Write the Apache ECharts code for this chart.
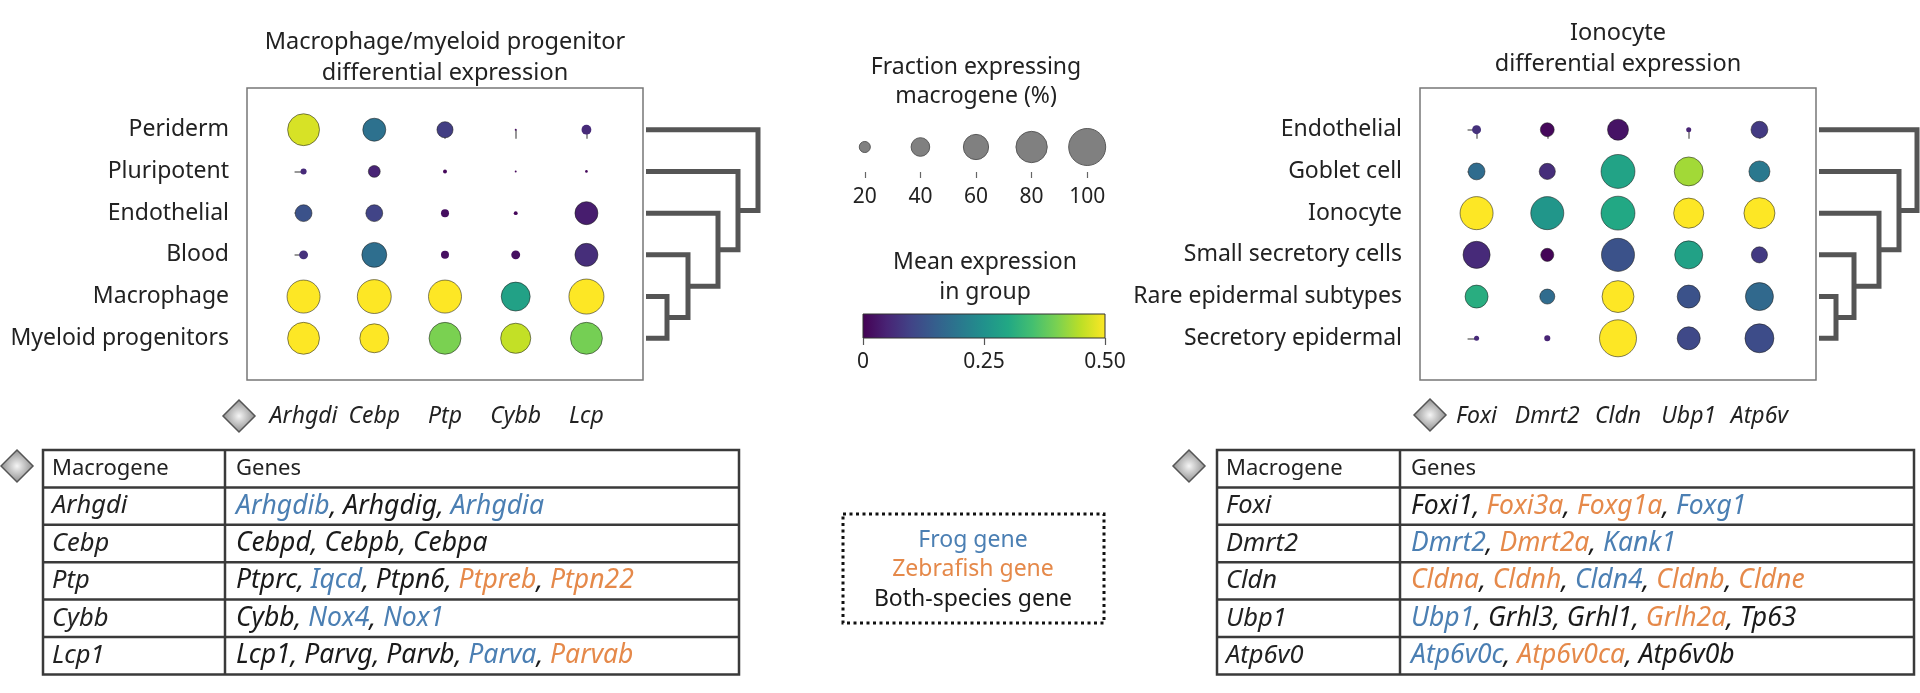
<!DOCTYPE html>
<html><head><meta charset="utf-8">
<script src="https://cdn.jsdelivr.net/npm/echarts@6/dist/echarts.min.js"></script>
<style>html,body{margin:0;padding:0;background:#fff}#c{width:1920px;height:693px}</style>
</head><body><div id="c"></div>
<script>
// ---------------- data ----------------
const leftTitle = 'Macrophage/myeloid progenitor\ndifferential expression';
const rightTitle = 'Ionocyte\ndifferential expression';
const leftRows = ['Periderm','Pluripotent','Endothelial','Blood','Macrophage','Myeloid progenitors'];
const leftCols = ['Arhgdi','Cebp','Ptp','Cybb','Lcp'];
// fraction of cells expressing (%)
const leftFraction = [
  [82, 53, 33, 2, 17],
  [9, 22, 5, 2, 3],
  [35, 35, 13, 5, 53],
  [15, 59, 13, 15, 53],
  [86, 89, 86, 72, 93],
  [82, 72, 82, 76, 82]
];
// mean expression in group
const leftMean = [
  [0.47, 0.185, 0.09, 0.02, 0.06],
  [0.06, 0.05, 0.01, 0.01, 0.01],
  [0.125, 0.10, 0.02, 0.01, 0.04],
  [0.07, 0.18, 0.02, 0.02, 0.065],
  [0.5, 0.5, 0.5, 0.285, 0.5],
  [0.5, 0.5, 0.4, 0.455, 0.395]
];
const rightRows = ['Endothelial','Goblet cell','Ionocyte','Small secretory cells','Rare epidermal subtypes','Secretory epidermal'];
const rightCols = ['Foxi','Dmrt2','Cldn','Ubp1','Atp6v'];
const rightFraction = [
  [15, 27, 47, 7, 35],
  [35, 33, 89, 72, 47],
  [86, 86, 89, 76, 79],
  [66, 25, 86, 69, 33],
  [53, 30, 82, 53, 69],
  [7, 9, 100, 53, 72]
];
const rightMean = [
  [0.07, 0.01, 0.025, 0.05, 0.085],
  [0.175, 0.065, 0.29, 0.43, 0.2],
  [0.5, 0.26, 0.3, 0.5, 0.5],
  [0.06, 0.005, 0.125, 0.285, 0.085],
  [0.31, 0.175, 0.5, 0.125, 0.17],
  [0.06, 0.05, 0.5, 0.11, 0.115]
];
// dendrogram merges: [childA, childB, height]; leaves 0..5, merges 6..
const leftLinkage = [[4,5,24],[3,6,45],[2,7,75],[1,8,95],[0,9,115]];
const rightLinkage = [[4,5,20],[3,6,38],[2,7,63],[1,8,83],[0,9,101]];
const sizeLegendValues = [20, 40, 60, 80, 100];
const colorTicks = [0, 0.25, 0.5];
const colorTickLabels = ['0', '0.25', '0.50'];
const sizeTitle = 'Fraction expressing\nmacrogene (%)';
const colorTitle = 'Mean expression\nin group';
const tableHeader = ['Macrogene', 'Genes'];
const leftTableMacro = ['Arhgdi','Cebp','Ptp','Cybb','Lcp1'];
const leftTableGenes = [
  [['Arhgdib','F'],['Arhgdig','B'],['Arhgdia','F']],
  [['Cebpd','B'],['Cebpb','B'],['Cebpa','B']],
  [['Ptprc','B'],['Iqcd','F'],['Ptpn6','B'],['Ptpreb','Z'],['Ptpn22','Z']],
  [['Cybb','B'],['Nox4','F'],['Nox1','F']],
  [['Lcp1','B'],['Parvg','B'],['Parvb','B'],['Parva','F'],['Parvab','Z']]
];
const rightTableMacro = ['Foxi','Dmrt2','Cldn','Ubp1','Atp6v0'];
const rightTableGenes = [
  [['Foxi1','B'],['Foxi3a','Z'],['Foxg1a','Z'],['Foxg1','F']],
  [['Dmrt2','F'],['Dmrt2a','Z'],['Kank1','F']],
  [['Cldna','Z'],['Cldnh','Z'],['Cldn4','F'],['Cldnb','Z'],['Cldne','Z']],
  [['Ubp1','F'],['Grhl3','B'],['Grhl1','B'],['Grlh2a','Z'],['Tp63','B']],
  [['Atp6v0c','F'],['Atp6v0ca','Z'],['Atp6v0b','B']]
];
const speciesLegend = [['Frog gene','F'],['Zebrafish gene','Z'],['Both-species gene','B']];

// ---------------- styles ----------------
const FONT = '"Noto Sans", "DejaVu Sans", sans-serif';
const FS = 23;
const TFS_HEAD = 22;
const TFS_MACRO = 25.5;
const TFS_GENE = 26.5;
const TXT = '#222';
const speciesColor = {F:'#4b7fb3', Z:'#e5894a', B:'#1a1a1a'};
const viridis = ['#440154','#482475','#414487','#355f8d','#2a788e','#21918c','#22a884','#44bf70','#7ad151','#bddf26','#fde725'];
const MAXD = 37;
const dotSize = f => MAXD * Math.pow(f / 100, 0.75);

function dotData(frac, mean) {
  const out = [];
  frac.forEach((row, r) => row.forEach((f, c) => out.push([c, r, f, mean[r][c]])));
  return out;
}
function renderDot(params, api) {
  const p = api.coord([api.value(0), api.value(1)]);
  const r = dotSize(api.value(2)) / 2;
  return {type: 'circle', shape: {cx: p[0], cy: p[1], r: r},
    style: {fill: api.visual('color'), stroke: r > 5 ? 'rgba(30,30,30,0.55)' : null, lineWidth: 1}};
}
function renderLegendDot(params, api) {
  const p = api.coord([api.value(0), api.value(1)]);
  const r = dotSize(api.value(2)) / 2;
  return {type: 'circle', shape: {cx: p[0], cy: p[1], r: r}, style: {fill: '#808080', stroke: '#5a5a5a', lineWidth: 1}};
}
function dendroLines(linkage, leafStart) {
  const pos = {};
  for (let i = 0; i < 6; i++) pos[i] = [leafStart, i];
  const lines = [];
  linkage.forEach((m, k) => {
    const a = pos[m[0]], b = pos[m[1]], h = m[2];
    lines.push({coords: [[a[0], a[1]], [h, a[1]], [h, b[1]], [b[0], b[1]]]});
    pos[6 + k] = [h, (a[1] + b[1]) / 2];
  });
  return lines;
}

const gridL = {left: 247, top: 88, width: 396, height: 292};
const gridR = {left: 1420, top: 88, width: 396, height: 292};

function dotXAxis(gi, cols) {
  return {gridIndex: gi, type: 'value', min: -0.8, max: 4.8, position: 'bottom',
    axisLine: {show: false}, splitLine: {show: false},
    axisTick: {show: true, customValues: [0,1,2,3,4], length: 9, lineStyle: {color: '#777', width: 1.5}},
    axisLabel: {customValues: [0,1,2,3,4], formatter: v => cols[Math.round(v)], fontSize: FS, fontStyle: 'italic', fontFamily: FONT, color: TXT, margin: 25}};
}
function dotYAxis(gi, rows) {
  return {gridIndex: gi, type: 'value', min: -1, max: 6, inverse: true,
    axisLine: {show: false}, splitLine: {show: false},
    axisTick: {show: true, customValues: [0,1,2,3,4,5], length: 9, lineStyle: {color: '#777', width: 1.5}},
    axisLabel: {customValues: [0,1,2,3,4,5], formatter: v => rows[Math.round(v)], fontSize: FS, fontFamily: FONT, color: TXT, margin: 18}};
}

function tableGraphics(x0, y0, w, divX, rowH, macros, genes) {
  const els = [];
  const n = macros.length + 1;
  const h = rowH * n;
  const stroke = {stroke: '#3a3a3a', lineWidth: 2.5};
  els.push({type: 'rect', shape: {x: x0, y: y0, width: w, height: h}, style: Object.assign({fill: null}, stroke)});
  for (let i = 1; i < n; i++) {
    els.push({type: 'line', shape: {x1: x0, y1: y0 + rowH * i, x2: x0 + w, y2: y0 + rowH * i}, style: stroke});
  }
  els.push({type: 'line', shape: {x1: divX, y1: y0, x2: divX, y2: y0 + h}, style: stroke});
  const rowsTxt = [[tableHeader[0], null]].concat(macros.map((m, i) => [m, genes[i]]));
  rowsTxt.forEach((rt, i) => {
    const cy = y0 + rowH * (i + 0.5);
    const header = i === 0;
    els.push({type: 'text', x: x0 + 9, y: cy, style: {text: rt[0], fill: TXT,
      font: header ? (TFS_HEAD + 'px ' + FONT) : ('italic ' + TFS_MACRO + 'px ' + FONT), verticalAlign: 'middle'}});
    if (header) {
      els.push({type: 'text', x: divX + 11, y: cy, style: {text: tableHeader[1], fill: TXT, font: TFS_HEAD + 'px ' + FONT, verticalAlign: 'middle'}});
    } else {
      const txt = rt[1].map(g => '{' + g[1] + '|' + g[0] + '}').join('{B|, }');
      const rich = {};
      ['F','Z','B'].forEach(k => rich[k] = {fill: speciesColor[k], fontSize: TFS_GENE, fontStyle: 'italic', fontFamily: FONT});
      els.push({type: 'text', x: divX + 11, y: cy, style: {text: txt, rich: rich, fontSize: TFS_GENE, fontStyle: 'italic', fontFamily: FONT, verticalAlign: 'middle'}});
    }
  });
  return els;
}
function diamond(cx, cy) {
  return {type: 'polygon', x: cx, y: cy, shape: {points: [[0,-16],[16,0],[0,16],[-16,0]]},
    style: {fill: new echarts.graphic.RadialGradient(0.5, 0.5, 0.6, [{offset: 0, color: '#f5f5f5'}, {offset: 1, color: '#777'}]), stroke: '#555', lineWidth: 1.5}};
}

const chart = echarts.init(document.getElementById('c'), null, {renderer: 'canvas'});
const colorbarFill = new echarts.graphic.LinearGradient(0, 0, 1, 0, viridis.map((c, i) => ({offset: i / (viridis.length - 1), color: c})));

const graphics = [
  {type: 'text', x: 445, y: 58, style: {text: leftTitle, align: 'center', verticalAlign: 'middle', font: '23.5px ' + FONT, fill: TXT, lineHeight: 31}},
  {type: 'text', x: 1618, y: 49, style: {text: rightTitle, align: 'center', verticalAlign: 'middle', font: '23.5px ' + FONT, fill: TXT, lineHeight: 31}},
  {type: 'text', x: 976, y: 82, style: {text: sizeTitle, align: 'center', verticalAlign: 'middle', font: FS + 'px ' + FONT, fill: TXT, lineHeight: 29}},
  {type: 'text', x: 985, y: 277, style: {text: colorTitle, align: 'center', verticalAlign: 'middle', font: FS + 'px ' + FONT, fill: TXT, lineHeight: 30}},
  diamond(239, 416), diamond(1430, 415), diamond(17, 466), diamond(1189, 466),
  {type: 'rect', shape: {x: 843, y: 514, width: 261, height: 109}, style: {fill: null, stroke: '#111', lineWidth: 3, lineDash: [3, 3.5]}}
].concat(speciesLegend.map((s, i) => ({type: 'text', x: 973, y: 540 + 29.5 * i,
    style: {text: s[0], align: 'center', verticalAlign: 'middle', font: FS + 'px ' + FONT, fill: speciesColor[s[1]]}})))
 .concat(tableGraphics(43, 450, 696, 225, 37.4, leftTableMacro, leftTableGenes))
 .concat(tableGraphics(1217, 450, 697, 1400, 37.4, rightTableMacro, rightTableGenes));

const option = {
  animation: false,
  backgroundColor: '#fff',
  grid: [
    Object.assign({show: true, borderColor: '#777', borderWidth: 1.5}, gridL),
    Object.assign({show: true, borderColor: '#777', borderWidth: 1.5}, gridR),
    {left: 643, top: 88, width: 140, height: 292},
    {left: 1816, top: 88, width: 104, height: 292},
    {left: 837, top: 122, width: 278, height: 50},
    {show: true, left: 863, top: 314, width: 242, height: 24, backgroundColor: colorbarFill, borderColor: '#333', borderWidth: 1}
  ],
  xAxis: [
    dotXAxis(0, leftCols), dotXAxis(1, rightCols),
    {gridIndex: 2, type: 'value', min: 0, max: 140, show: false},
    {gridIndex: 3, type: 'value', min: 0, max: 104, show: false},
    {gridIndex: 4, type: 'category', data: sizeLegendValues.map(String), axisLine: {show: false},
      axisTick: {show: true, alignWithLabel: true, length: 6, lineStyle: {color: '#666', width: 1.2}},
      axisLabel: {fontSize: 21, fontFamily: FONT, color: TXT, margin: 15}},
    {gridIndex: 5, type: 'value', min: 0, max: 0.5, interval: 0.25, axisLine: {show: false}, splitLine: {show: false},
      axisTick: {show: true, length: 7, lineStyle: {color: '#555', width: 1.2}},
      axisLabel: {fontSize: 21, fontFamily: FONT, color: TXT, margin: 14, formatter: v => colorTickLabels[colorTicks.indexOf(v)]}}
  ],
  yAxis: [
    dotYAxis(0, leftRows), dotYAxis(1, rightRows),
    {gridIndex: 2, type: 'value', min: -1, max: 6, inverse: true, show: false},
    {gridIndex: 3, type: 'value', min: -1, max: 6, inverse: true, show: false},
    {gridIndex: 4, type: 'value', min: 0, max: 1, show: false},
    {gridIndex: 5, type: 'value', min: 0, max: 1, show: false}
  ],
  visualMap: [{type: 'continuous', show: false, min: 0, max: 0.5, dimension: 3, seriesIndex: [0, 1], inRange: {color: viridis}}],
  series: [
    {type: 'custom', xAxisIndex: 0, yAxisIndex: 0, data: dotData(leftFraction, leftMean), renderItem: renderDot,
      encode: {x: 0, y: 1}, silent: true, clip: false},
    {type: 'custom', xAxisIndex: 1, yAxisIndex: 1, data: dotData(rightFraction, rightMean), renderItem: renderDot,
      encode: {x: 0, y: 1}, silent: true, clip: false},
    {type: 'lines', coordinateSystem: 'cartesian2d', xAxisIndex: 2, yAxisIndex: 2, polyline: true, data: dendroLines(leftLinkage, 3),
      lineStyle: {color: '#555', width: 5, opacity: 1, join: 'miter', cap: 'butt'}, silent: true},
    {type: 'lines', coordinateSystem: 'cartesian2d', xAxisIndex: 3, yAxisIndex: 3, polyline: true, data: dendroLines(rightLinkage, 3),
      lineStyle: {color: '#555', width: 5, opacity: 1, join: 'miter', cap: 'butt'}, silent: true},
    {type: 'custom', xAxisIndex: 4, yAxisIndex: 4, data: sizeLegendValues.map((v, i) => [i, 0.5, v]), renderItem: renderLegendDot,
      encode: {x: 0, y: 1}, silent: true}
  ],
  graphic: graphics
};
chart.setOption(option);
</script></body></html>
